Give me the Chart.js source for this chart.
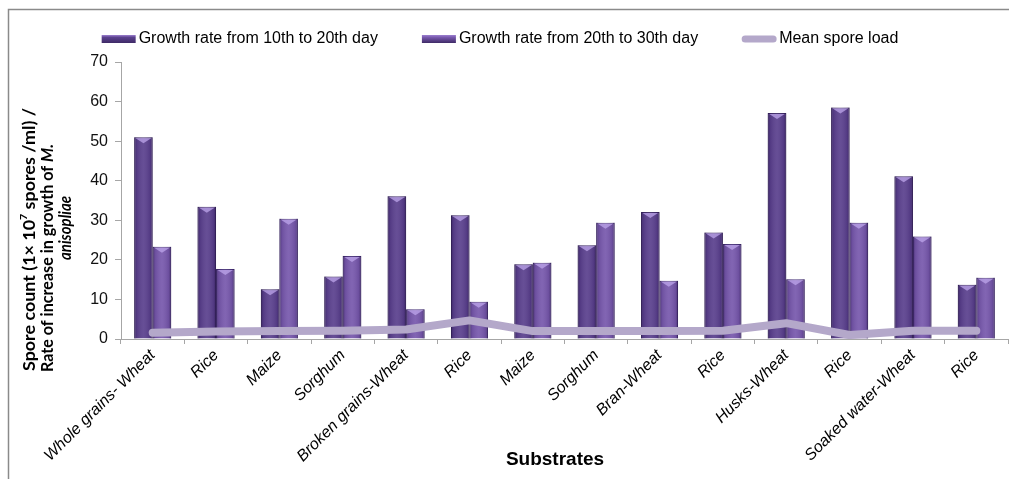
<!DOCTYPE html>
<html>
<head>
<meta charset="utf-8">
<script src="https://cdn.jsdelivr.net/npm/chart.js@4.4.1/dist/chart.umd.min.js"></script>
<style>
  html, body { margin: 0; padding: 0; background: #fff; }
  #wrap { width: 1009px; height: 479px; position: relative; }
</style>
</head>
<body>
<div id="wrap"><canvas id="chart" width="1009" height="479"></canvas></div>
<script>
// Substrates and measured values
const substrates = ['Whole grains- Wheat', 'Rice', 'Maize', 'Sorghum', 'Broken grains-Wheat', 'Rice', 'Maize',
                    'Sorghum', 'Bran-Wheat', 'Rice', 'Husks-Wheat', 'Rice', 'Soaked water-Wheat', 'Rice'];
const growth10to20 = [51.0, 33.4, 12.6, 15.8, 36.1, 31.3, 18.9, 23.7, 32.1, 26.9, 57.1, 58.5, 41.1, 13.7];
const growth20to30 = [23.3, 17.7, 30.4, 21.0, 7.5, 9.4, 19.3, 29.4, 14.7, 24.0, 15.1, 29.4, 25.9, 15.5];
const meanSporeLoad = [1.6, 1.9, 2.0, 2.1, 2.4, 4.7, 2.0, 2.0, 2.0, 2.1, 4.0, 1.0, 2.1, 2.1];
const yTicks = [0, 10, 20, 30, 40, 50, 60, 70];

const seriesNames = ['Growth rate from 10th to 20th day', 'Growth rate from 20th to 30th day', 'Mean spore load'];
const barColors = ['#5b418e', '#7859ad'];
const lineColor = '#b4a8ca';
const axisColor = '#a6a6a6';
const FONT = "'Liberation Sans', Arial, sans-serif";
const TITLE_FONT = "Lato, 'Open Sans', sans-serif";

// Outer frame of the chart
const frame = {
  id: 'frame',
  beforeDraw(chart) {
    const ctx = chart.ctx;
    ctx.save();
    ctx.fillStyle = '#fff';
    ctx.fillRect(0, 0, chart.width, chart.height);
    ctx.strokeStyle = '#8a8a8a';
    ctx.lineWidth = 1.5;
    ctx.strokeRect(8.5, 9.5, chart.width + 20, chart.height + 20);
    ctx.restore();
  }
};

// Shaded bevel on each bar: darker edges and a light wedge on top
const bevel = {
  id: 'bevel',
  afterDatasetDraw(chart, args) {
    const meta = args.meta;
    if (meta.type !== 'bar') return;
    const ctx = chart.ctx;
    meta.data.forEach(bar => {
      const { x, y, base, width } = bar.getProps(['x', 'y', 'base', 'width'], true);
      const l = x - width / 2, r = x + width / 2, h = base - y;
      ctx.save();
      const g = ctx.createLinearGradient(l, 0, r, 0);
      g.addColorStop(0, 'rgba(25,8,55,0.45)');
      g.addColorStop(0.14, 'rgba(25,8,55,0.12)');
      g.addColorStop(0.5, 'rgba(255,255,255,0.07)');
      g.addColorStop(0.86, 'rgba(25,8,55,0.12)');
      g.addColorStop(1, 'rgba(25,8,55,0.45)');
      ctx.fillStyle = g;
      ctx.fillRect(l, y, width, h);
      const d = Math.min(6, h / 2);
      ctx.beginPath();
      ctx.moveTo(l + 1.5, y + 1);
      ctx.lineTo(r - 1.5, y + 1);
      ctx.lineTo(x, y + d);
      ctx.closePath();
      ctx.fillStyle = 'rgba(190,165,235,0.75)';
      ctx.fill();
      ctx.restore();
    });
  }
};

// Draw a run of styled text pieces along the current x direction
function setPieceFont(ctx, p, size) {
  const s = p.sup ? size * 0.6 : size;
  ctx.font = (p.italic ? 'italic ' : '') + 'bold ' + s + 'px ' + TITLE_FONT;
}
function drawPieces(ctx, pieces, size) {
  let x = 0;
  pieces.forEach(p => {
    setPieceFont(ctx, p, size);
    ctx.fillText(p.t, x, p.sup ? -size * 0.35 : 0);
    x += ctx.measureText(p.t).width;
  });
  return x;
}
function piecesWidth(ctx, pieces, size) {
  let w = 0;
  pieces.forEach(p => {
    setPieceFont(ctx, p, size);
    w += ctx.measureText(p.t).width;
  });
  return w;
}

// Axis titles and legend
const annotations = {
  id: 'annotations',
  afterDraw(chart) {
    const ctx = chart.ctx;
    ctx.save();
    ctx.fillStyle = '#000';
    ctx.textBaseline = 'middle';

    // y-axis title, three rotated lines, each set to its own run length
    const size = 17;
    const lines = [
      { x: 30, start: 371, len: 263, pieces: [{ t: 'Spore count (1\u00d7 10' }, { t: '7', sup: true }, { t: ' spores /ml) /' }] },
      { x: 48, start: 372, len: 228, pieces: [{ t: 'Rate of increase in growth of ' }, { t: 'M.', italic: true }] },
      { x: 66, start: 260, len: 64, pieces: [{ t: 'anisopliae', italic: true }] }
    ];
    lines.forEach(ln => {
      ctx.save();
      const w = piecesWidth(ctx, ln.pieces, size);
      ctx.translate(ln.x, ln.start);
      ctx.rotate(-Math.PI / 2);
      ctx.scale(ln.len / w, 1);
      ctx.textAlign = 'left';
      drawPieces(ctx, ln.pieces, size);
      ctx.restore();
    });

    // x-axis title
    ctx.font = 'bold 19px ' + FONT;
    ctx.textAlign = 'center';
    ctx.fillText('Substrates', 555, 460);

    // legend row
    ctx.font = '16px ' + FONT;
    const boxW = 34, boxGap = 3, itemGap = 44;
    const widths = seriesNames.map(n => ctx.measureText(n).width);
    const total = widths.reduce((a, w) => a + boxW + boxGap + w, 0) + itemGap * (seriesNames.length - 1);
    let lx = 500 - total / 2;
    const ly = 39;
    ctx.textAlign = 'left';
    seriesNames.forEach((name, i) => {
      if (i < 2) {
        const g = ctx.createLinearGradient(0, ly - 4, 0, ly + 4);
        g.addColorStop(0, '#9c80d0');
        g.addColorStop(0.3, barColors[i]);
        g.addColorStop(1, '#3e2a66');
        ctx.fillStyle = g;
        ctx.fillRect(lx, ly - 4, boxW, 8);
      } else {
        ctx.strokeStyle = lineColor;
        ctx.lineWidth = 7;
        ctx.lineCap = 'round';
        ctx.beginPath();
        ctx.moveTo(lx + 3, ly);
        ctx.lineTo(lx + boxW - 3, ly);
        ctx.stroke();
      }
      ctx.fillStyle = '#000';
      ctx.fillText(name, lx + boxW + boxGap, ly);
      lx += boxW + boxGap + widths[i] + itemGap;
    });
    ctx.restore();
  }
};

new Chart(document.getElementById('chart'), {
  data: {
    labels: substrates,
    datasets: [
      {
        type: 'bar', label: seriesNames[0], data: growth10to20, order: 1,
        backgroundColor: barColors[0], borderColor: '#3c2866', borderWidth: 1,
        categoryPercentage: 0.584, barPercentage: 1.0
      },
      {
        type: 'bar', label: seriesNames[1], data: growth20to30, order: 1,
        backgroundColor: barColors[1], borderColor: '#48327a', borderWidth: 1,
        categoryPercentage: 0.584, barPercentage: 1.0
      },
      {
        type: 'line', label: seriesNames[2], data: meanSporeLoad, order: 0,
        borderColor: lineColor, borderWidth: 8, borderCapStyle: 'round', borderJoinStyle: 'round',
        pointRadius: 0, tension: 0, fill: false
      }
    ]
  },
  options: {
    responsive: false,
    animation: false,
    devicePixelRatio: 1,
    layout: { padding: { left: 0, right: 1, top: 62, bottom: 0 } },
    plugins: { legend: { display: false }, tooltip: { enabled: false } },
    scales: {
      x: {
        offset: true,
        grid: { display: true, drawOnChartArea: false, drawTicks: true, tickLength: 5, color: axisColor, offset: true },
        border: { display: true, color: axisColor, width: 1 },
        ticks: {
          autoSkip: false, maxRotation: 45, minRotation: 45, padding: 2,
          color: '#000', font: { family: FONT, size: 16, style: 'italic' }
        },
        afterFit(scale) { scale.height = 140; }
      },
      y: {
        min: 0, max: 70,
        afterBuildTicks(scale) { scale.ticks = yTicks.map(v => ({ value: v })); },
        grid: { display: true, drawOnChartArea: false, drawTicks: true, tickLength: 6, color: axisColor },
        border: { display: true, color: axisColor, width: 1 },
        ticks: { padding: 7, color: '#111', font: { family: FONT, size: 16 } },
        afterFit(scale) { scale.width = 121; }
      }
    }
  },
  plugins: [frame, bevel, annotations]
});
</script>
</body>
</html>
